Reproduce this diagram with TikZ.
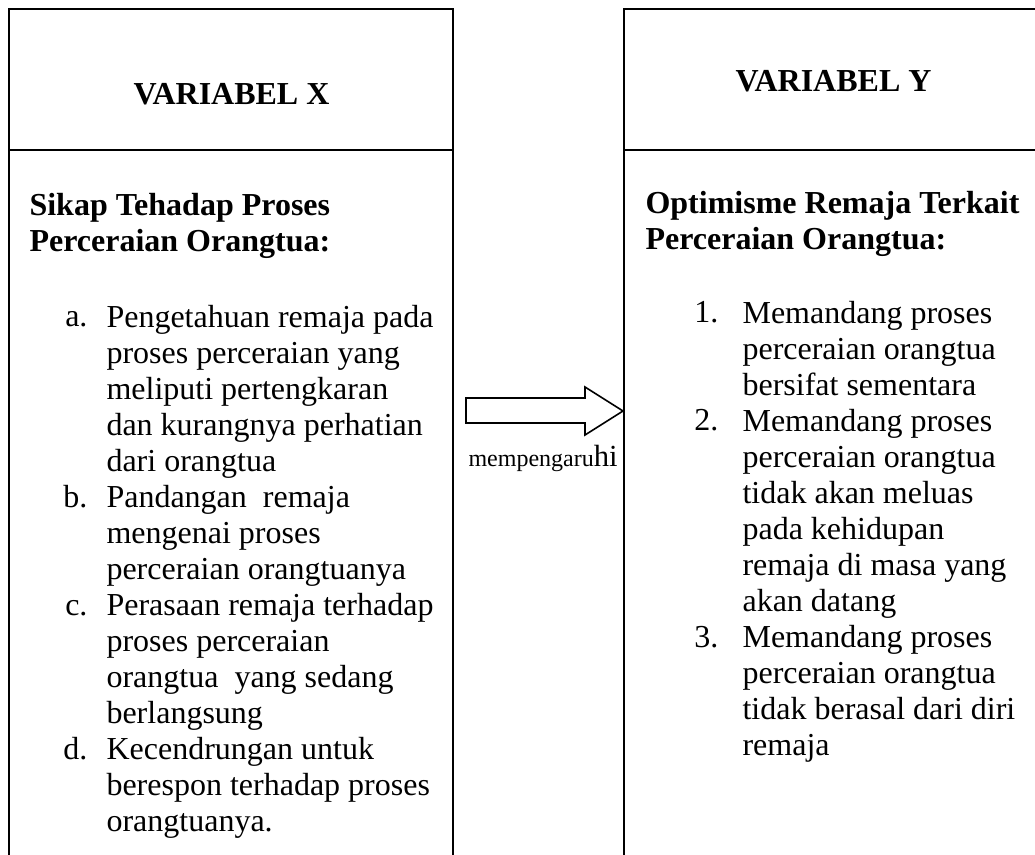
\documentclass[tikz,border=0pt]{standalone}
\usepackage{fontspec}
\setmainfont{Liberation Serif}
\begin{document}
\begin{tikzpicture}[x=0.375pt,y=-0.375pt,
  box/.style={line width=0.8pt, line join=miter},
  txt/.style={inner sep=0pt, anchor=north west, align=left, font=\fontsize{12}{13.5}\selectfont},
  btxt/.style={txt, font=\fontsize{12}{13.5}\selectfont\bfseries},
  lbl/.style={inner sep=0pt, anchor=base east, font=\fontsize{12}{13.5}\selectfont},
  hdr/.style={inner sep=0pt, anchor=base west, font=\fontsize{12}{13.5}\selectfont\bfseries}]
\useasboundingbox (0,0) rectangle (1035,854);
\clip (0,0) rectangle (1035,854);
% left box
\draw[box] (9,860) -- (9,9) -- (453,9) -- (453,860);
\draw[box] (9,150) -- (453,150);
% right box
\draw[box] (1045,9) -- (624,9) -- (624,860);
\draw[box] (624,150) -- (1045,150);
% headers
\node[hdr] (vx) at (133,105) {VARIABEL X};
\node[hdr] (vy) at (735,92) {VARIABEL Y};
% bold headings
\node[btxt] (hx) at (29,189.8) {\strut Sikap Tehadap Proses\\Perceraian Orangtua:};
\node[btxt] (hy) at (645,187.8) {\strut Optimisme Remaja Terkait\\Perceraian Orangtua:};
% left list
\node[lbl] (la) at (88,327) {a.};
\node[txt] (ta) at (106,301.8) {\strut Pengetahuan remaja pada\\proses perceraian yang\\meliputi pertengkaran\\dan kurangnya perhatian\\dari orangtua};
\node[lbl] (lb) at (88,507) {b.};
\node[txt] (tb) at (106,481.8) {\strut Pandangan\ \ remaja\\mengenai proses\\perceraian orangtuanya};
\node[lbl] (lc) at (88,615) {c.};
\node[txt] (tc) at (106,589.8) {\strut Perasaan remaja terhadap\\proses perceraian\\orangtua\ \ yang sedang\\berlangsung};
\node[lbl] (ld) at (88,759) {d.};
\node[txt] (td) at (106,733.8) {\strut Kecendrungan untuk\\berespon terhadap proses\\orangtuanya.};
% right list
\node[lbl] (l1) at (719,323) {1.};
\node[txt] (t1) at (742,297.8) {\strut Memandang proses\\perceraian orangtua\\bersifat sementara};
\node[lbl] (l2) at (719,431) {2.};
\node[txt] (t2) at (742,405.8) {\strut Memandang proses\\perceraian orangtua\\tidak akan meluas\\pada kehidupan\\remaja di masa yang\\akan datang};
\node[lbl] (l3) at (719,647) {3.};
\node[txt] (t3) at (742,621.8) {\strut Memandang proses\\perceraian orangtua\\tidak berasal dari diri\\remaja};
% block arrow
\draw[line width=0.6pt, line join=miter] (466,398) -- (585,398) -- (585,387) -- (623,411) -- (585,435) -- (585,423) -- (466,423) -- cycle;
\node[inner sep=0pt, anchor=base west] (lab) at (468,466) {\fontsize{9}{10}\selectfont mempengaru\fontsize{11.5}{13}\selectfont hi};
\end{tikzpicture}
\end{document}
